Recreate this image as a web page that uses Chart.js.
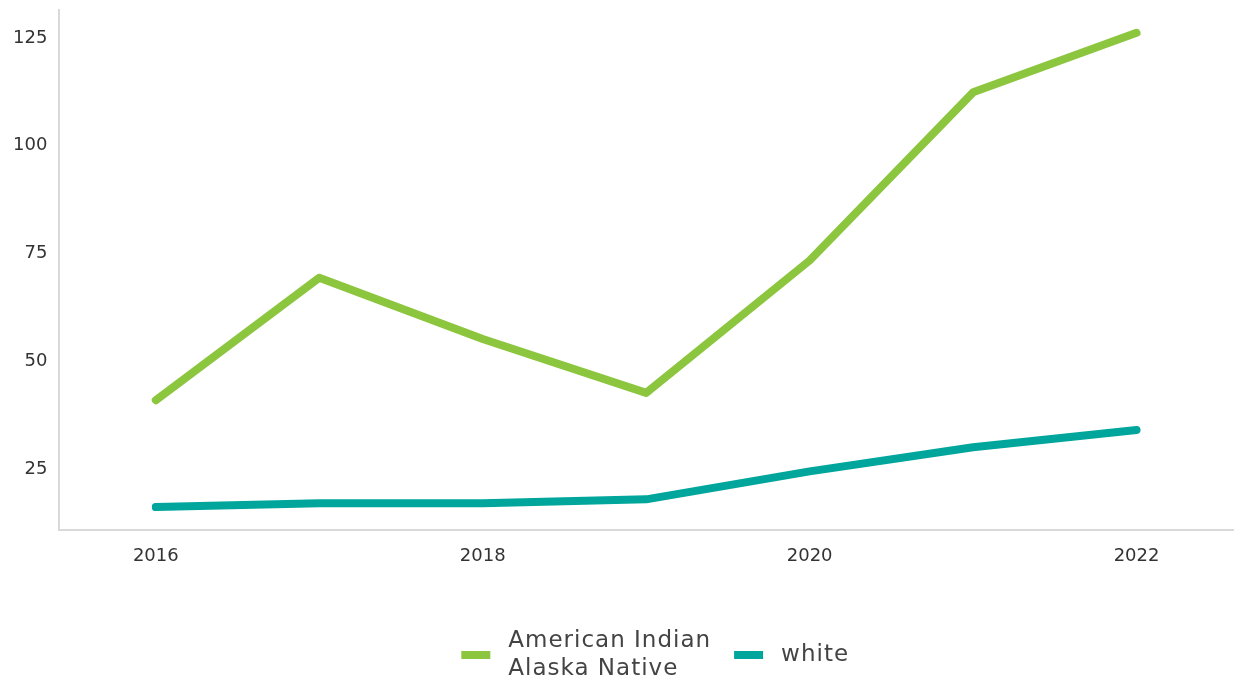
<!DOCTYPE html>
<html>
<head>
<meta charset="utf-8">
<script src="https://cdn.jsdelivr.net/npm/chart.js@4"></script>
<style>
  html, body { margin: 0; padding: 0; background: #fff; }
  #wrap { width: 1236px; height: 679px; }
</style>
</head>
<body>
<div id="wrap"><canvas id="chart"></canvas></div>
<script>
var years = [2016, 2017, 2018, 2019, 2020, 2021, 2022];
var nativeValues = [41.0, 69.4, 55.2, 42.7, 73.4, 112.4, 126.2];
var whiteValues = [16.2, 17.1, 17.1, 18.0, 24.5, 30.1, 34.1];
var seriesNames = [["American Indian", "Alaska Native"], "white"];
var seriesColors = ['#8cc63e', '#00a69c'];
var xTicks = [2016, 2018, 2020, 2022];
var yTicks = [25, 50, 75, 100, 125];

function toPoints(values) {
  return years.map(function (yr, i) { return { x: yr, y: values[i] }; });
}

var fontFamily = "'DejaVu Sans', 'Noto Sans', sans-serif";

// legend drawn by hand so the first label can sit on two lines
var twoLineLegend = {
  id: 'twoLineLegend',
  afterDraw: function (chart) {
    var c = chart.ctx;
    c.save();
    c.font = "23px " + fontFamily;
    c.letterSpacing = '1px';
    c.textBaseline = 'middle';
    c.textAlign = 'left';
    var boxW = 29, boxH = 8, boxGap = 18, itemGap = 23, lineH = 28;
    var items = chart.data.datasets.map(function (ds) {
      var lines = [].concat(ds.label);
      var w = Math.max.apply(null, lines.map(function (l) { return c.measureText(l).width; }));
      return { lines: lines, w: w, color: ds.borderColor };
    });
    var total = 0;
    items.forEach(function (it, i) { total += boxW + boxGap + it.w + (i ? itemGap : 0); });
    var area = chart.chartArea;
    var x = (area.left + area.right) / 2 + 9 - total / 2;
    var cy = chart.height - 24;
    items.forEach(function (it) {
      c.fillStyle = it.color;
      c.fillRect(x, cy - boxH / 2, boxW, boxH);
      c.fillStyle = '#444';
      var y0 = cy - (it.lines.length - 1) * lineH / 2;
      it.lines.forEach(function (l, k) { c.fillText(l, x + boxW + boxGap, y0 + k * lineH); });
      x += boxW + boxGap + it.w + itemGap;
    });
    c.restore();
  }
};

var ctx = document.getElementById("chart").getContext("2d");
new Chart(ctx, {
  type: 'line',
  data: {
    datasets: [{
      label: seriesNames[0],
      data: toPoints(nativeValues),
      borderColor: seriesColors[0],
      backgroundColor: seriesColors[0],
      borderWidth: 8,
      pointRadius: 0,
      borderCapStyle: 'round',
      borderJoinStyle: 'round'
    }, {
      label: seriesNames[1],
      data: toPoints(whiteValues),
      borderColor: seriesColors[1],
      backgroundColor: seriesColors[1],
      borderWidth: 8,
      pointRadius: 0,
      borderCapStyle: 'round',
      borderJoinStyle: 'round'
    }]
  },
  plugins: [twoLineLegend],
  options: {
    responsive: true,
    maintainAspectRatio: false,
    animation: false,
    layout: { padding: { top: 10, right: 3, bottom: 97, left: 1 } },
    plugins: {
      tooltip: { enabled: false },
      legend: { display: false }
    },
    scales: {
      x: {
        type: 'linear',
        min: 2015.41,
        max: 2022.59,
        grid: { display: false, drawTicks: false },
        border: { display: true, color: '#d9d9d9', width: 2 },
        afterBuildTicks: function (scale) {
          scale.ticks = xTicks.map(function (v) { return { value: v }; });
        },
        ticks: {
          padding: 15,
          color: '#333',
          font: { family: fontFamily, size: 18 },
          callback: function (v) { return String(v); }
        }
      },
      y: {
        min: 10.8,
        max: 131.5,
        grid: { display: false, drawTicks: false },
        border: { display: true, color: '#d9d9d9', width: 2 },
        afterBuildTicks: function (scale) {
          scale.ticks = yTicks.map(function (v) { return { value: v }; });
        },
        afterFit: function (scale) {
          scale.paddingTop = 0;
          scale.paddingBottom = 0;
        },
        ticks: {
          padding: 12,
          color: '#333',
          font: { family: fontFamily, size: 18 }
        }
      }
    }
  }
});
</script>
</body>
</html>
